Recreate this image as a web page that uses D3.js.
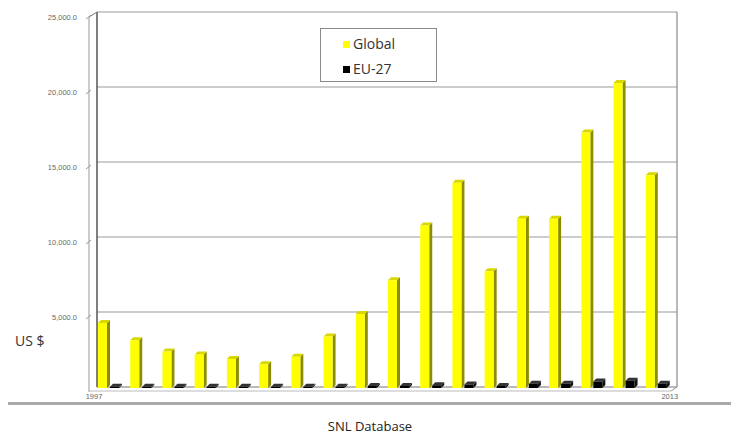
<!DOCTYPE html>
<html>
<head>
<meta charset="utf-8">
<script src="https://cdn.jsdelivr.net/npm/d3@7"></script>
<style>
	body { margin: 0; background: #fff; }
	svg { display: block; }
</style>
</head>
<body>
<svg id="chart" width="731" height="445"></svg>
<script>
// values (US $)
var years = ["1996", "1997", "1998", "1999", "2000", "2001", "2002", "2003", "2004",
             "2005", "2006", "2007", "2008", "2009", "2010", "2011", "2012", "2013"];
var globalVals = [4400, 3250, 2500, 2300, 2000, 1650, 2150, 3500, 5000,
                  7250, 10900, 13750, 7850, 11350, 11350, 17100, 20400, 14250];
var euVals = [150, 150, 150, 150, 150, 150, 150, 150, 200,
              200, 250, 300, 200, 350, 350, 500, 550, 350];
var yTicks = [5000, 10000, 15000, 20000, 25000];
var edgeLabels = ["1997", "2013"];
var seriesNames = ["Global", "EU-27"];
var seriesColors = {Global: ["#ffff00", "#8c8c00", "#d8d800"], "EU-27": ["#000", "#111", "#333"]};

document.addEventListener("DOMContentLoaded", init)

function init() {
	var svg = d3.select("#chart");
	var left = 97, right = 677, top = 12, base = 387;
	var dx = -8, dy = 5; // front plane offset
	var depth = 3;

	var x = d3.scaleBand().domain(years).range([left, right]).padding(0);
	var x1 = d3.scaleBand().domain(seriesNames).range([1, 25]).paddingInner(0);
	var y = d3.scaleLinear().domain([0, 25000]).range([base, top]);

	// walls
	var g = svg.append("g");
	g.selectAll(".grid")
	 .data(yTicks)
	 .enter()
	 .append("line")
	 .attr("x1", left)
	 .attr("x2", right)
	 .attr("y1", d=>y(d))
	 .attr("y2", d=>y(d))
	 .style("stroke", "#9a9a9a")
	 .style("stroke-width", 1.2);
	g.append("line").attr("x1", right).attr("x2", right).attr("y1", top).attr("y2", base)
	 .style("stroke", "#8a8a8a").style("stroke-width", 1.2);
	g.append("line").attr("x1", left).attr("x2", left).attr("y1", top).attr("y2", base)
	 .style("stroke", "#555").style("stroke-width", 1.5);
	g.append("line").attr("x1", left + dx).attr("x2", left + dx).attr("y1", top + dy).attr("y2", base + dy)
	 .style("stroke", "#999").style("stroke-width", 1);
	g.append("line").attr("x1", left).attr("x2", left + dx).attr("y1", top).attr("y2", top + dy)
	 .style("stroke", "#777");
	g.append("line").attr("x1", left).attr("x2", right).attr("y1", base).attr("y2", base)
	 .style("stroke", "#777");
	g.append("line").attr("x1", left + dx).attr("x2", right - 6).attr("y1", base + dy - 1).attr("y2", base + dy - 1)
	 .style("stroke", "#bbb");
	g.append("line").attr("x1", right).attr("x2", right - 6).attr("y1", base).attr("y2", base + dy - 1)
	 .style("stroke", "#999");

	// y labels on the front plane
	var ax = svg.append("g");
	ax.selectAll(".tk")
	  .data(yTicks)
	  .enter()
	  .append("line")
	  .attr("x1", left + dx - 3)
	  .attr("x2", left + dx + 2)
	  .attr("y1", d=>y(d) + dy + 2)
	  .attr("y2", d=>y(d) + dy - 2)
	  .style("stroke", "#999");
	ax.selectAll(".lbl")
	  .data(yTicks)
	  .enter()
	  .append("text")
	  .attr("x", 77)
	  .attr("y", d=>y(d) + dy + 3)
	  .attr("text-anchor", "end")
	  .style("font", "7.5px 'Liberation Sans', Arial, sans-serif")
	  .style("fill", "#666")
	  .text(d=>d3.format(",.1f")(d));

	// bars
	var rows = years.map((yr, i)=>({year: yr, Global: globalVals[i], "EU-27": euVals[i]}));
	var bars = svg.append("g")
	  .selectAll(".yr")
	  .data(rows)
	  .enter()
	  .append("g")
	  .attr("transform", d=>"translate(" + x(d.year) + ",0)")
	  .selectAll(".bar")
	  .data(d=>seriesNames.map(s=>({s: s, v: d[s]})))
	  .enter()
	  .append("g");

	var w = x1.bandwidth() - depth;
	bars.append("polygon")  // side face
	  .attr("points", d=>{
		  var x0 = x1(d.s) + w, t = y(d.v) + 2;
		  return [[x0, t], [x0 + depth, t - depth], [x0 + depth, base + 1 - depth], [x0, base + 1]].join(" ");
	  })
	  .style("fill", d=>seriesColors[d.s][1]);
	bars.append("polygon")  // top face
	  .attr("points", d=>{
		  var x0 = x1(d.s), t = y(d.v) + 2;
		  return [[x0, t], [x0 + depth, t - depth], [x0 + w + depth, t - depth], [x0 + w, t]].join(" ");
	  })
	  .style("fill", d=>seriesColors[d.s][2]);
	bars.append("rect")
	  .attr("x", d=>x1(d.s))
	  .attr("y", d=>y(d.v) + 2)
	  .attr("width", w)
	  .attr("height", d=>base + 1 - y(d.v) - 2)
	  .style("fill", d=>seriesColors[d.s][0]);

	// x edge labels
	svg.selectAll(".xl")
	  .data(edgeLabels)
	  .enter()
	  .append("text")
	  .attr("x", (d, i)=>i == 0 ? x(years[0]) - 3 : x(years[years.length - 1]) + 25)
	  .attr("y", 399)
	  .attr("text-anchor", "middle")
	  .style("font", "7.5px 'Liberation Sans', Arial, sans-serif")
	  .style("fill", "#666")
	  .text(d=>d);

	// legend
	var lg = svg.append("g");
	lg.append("rect")
	  .attr("x", 320.5).attr("y", 28.5).attr("width", 116).attr("height", 53)
	  .style("fill", "#fff").style("stroke", "#8a8a8a");
	var items = lg.selectAll(".it")
	  .data(seriesNames)
	  .enter()
	  .append("g")
	  .attr("transform", (d, i)=>"translate(343," + (41 + i * 25) + ")");
	items.append("rect")
	  .attr("width", 7).attr("height", 7)
	  .style("fill", d=>seriesColors[d][0]);
	items.append("text")
	  .attr("x", 10)
	  .attr("y", 8)
	  .style("font", "14px 'Open Sans', sans-serif")
	  .style("fill", "#333")
	  .text(d=>d);

	svg.append("text")
	  .attr("x", 15).attr("y", 346)
	  .style("font", "14px 'Open Sans', sans-serif")
	  .style("fill", "#333")
	  .text("US $");

	svg.append("line")
	  .attr("x1", 8).attr("x2", 731).attr("y1", 403.5).attr("y2", 403.5)
	  .style("stroke", "#aaa").style("stroke-width", 3);

	svg.append("text")
	  .attr("x", 370).attr("y", 431)
	  .attr("text-anchor", "middle")
	  .style("font", "13px 'Open Sans', sans-serif")
	  .style("fill", "#222")
	  .text("SNL Database");
}
</script>
</body>
</html>
